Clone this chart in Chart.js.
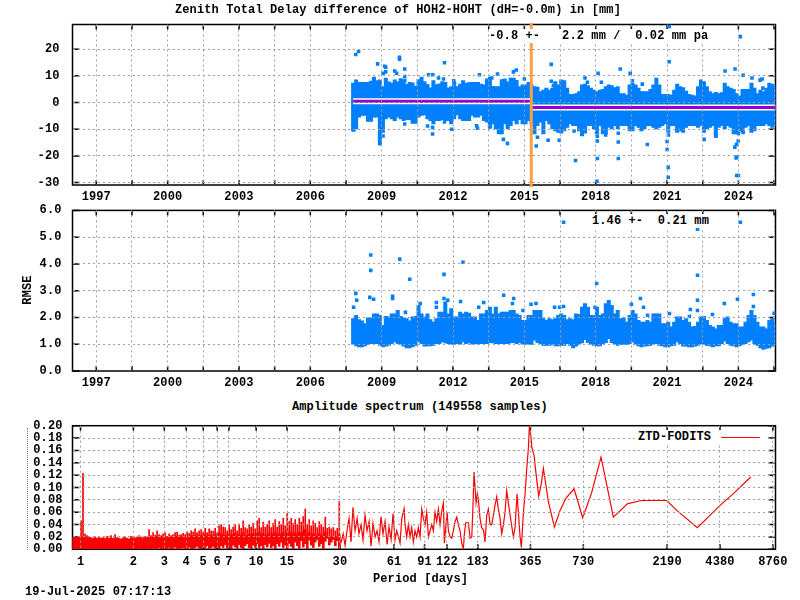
<!DOCTYPE html>
<html>
<head>
<meta charset="utf-8">
<title>ZTD difference HOH2-HOHT</title>
<script src="https://cdn.jsdelivr.net/npm/chart.js@4/dist/chart.umd.min.js"></script>
<style>
  html, body { margin: 0; padding: 0; background: #fff; }
  #page { position: relative; width: 800px; height: 600px; overflow: hidden; font: bold 12px "Liberation Mono", monospace; letter-spacing: 0.11px; color: #000; }
  canvas { position: absolute; left: 0; }
  .txt { position: absolute; white-space: pre; line-height: 14px; }
  .box { background: #fff; }
</style>
</head>
<body>
<div id="page">
  <canvas id="ztdChart" width="800" height="205" style="top:0"></canvas>
  <canvas id="rmseChart" width="800" height="195" style="top:200px"></canvas>
  <canvas id="specChart" width="800" height="160" style="top:415px"></canvas>

  <div class="txt" style="left:175px;top:3px">Zenith Total Delay difference of HOH2-HOHT (dH=-0.0m) in [mm]</div>
  <div class="txt box" style="left:489px;top:29px">-0.8 +-   2.2 mm /  0.02 mm pa</div>
  <div class="txt box" style="left:592px;top:214px">1.46 +-  0.21 mm</div>
  <div class="txt" style="left:7px;top:283px;width:42px;text-align:center;transform:rotate(-90deg)">RMSE</div>
  <div class="txt" style="left:292px;top:400px">Amplitude spectrum (149558 samples)</div>
  <div class="txt box" style="left:638px;top:430px;width:127px">ZTD-FODITS</div>
  <div style="position:absolute;left:721px;top:437px;width:39px;height:1px;background:#f00"></div>
  <div style="position:absolute;left:27px;top:428px;height:122px;border-left:1px dotted #888"></div>
  <div class="txt" style="left:373px;top:572px">Period [days]</div>
  <div class="txt" style="left:25px;top:585px">19-Jul-2025 07:17:13</div>
</div>

<script>
// ticks
const yearTicks = [1997, 1998.5, 2000, 2001.5, 2003, 2004.5, 2006, 2007.5, 2009, 2010.5, 2012, 2013.5, 2015, 2016.5, 2018, 2019.5, 2021, 2022.5, 2024, 2025.5];
const ztdTicks = [-30, -20, -10, 0, 10, 20];
const rmseTicks = [0, 1, 2, 3, 4, 5, 6];
const specPeriodTicks = [1, 2, 3, 4, 5, 6, 7, 10, 15, 30, 61, 91, 122, 183, 365, 730, 2190, 4380, 8760];
const specAmpTicks = [0, 0.02, 0.04, 0.06, 0.08, 0.10, 0.12, 0.14, 0.16, 0.18, 0.20];

const bandStart = 2007.8;
const bandStep = 0.125;
const ztdHigh = [7.3,8.5,7.6,7.6,7.6,7.6,8.0,9.5,8.2,8.5,6,9.2,7.8,7.3,8.5,7.8,9,8.5,6.8,7.6,7.4,6.2,8.6,9.5,7.9,6.8,5.5,8.2,6.7,7.0,7.9,7.6,5.5,6,7.9,6,6.9,8.2,7.3,7.5,7.6,7.6,7.6,6.9,6.6,8.9,9.5,6.1,6,6,8.6,8.8,7.0,9.2,9.2,8.3,6,6.6,6.6,7.6,
  6.6,6,5.8,4.1,4.7,5.4,4.7,5.4,7.9,6.6,
  8.5,8.2,5.4,3.1,3.1,3.4,4.1,6.6,6.9,6.4,5.4,4.7,4.1,4.7,5,6,6.6,6.4,5.6,6,3.4,3.4,2.8,6.6,7.3,6.6,5.4,4.1,4.1,4.1,5,6.6,9.2,6.6,3.1,3.1,3.1,2.8,4.7,6.9,6,5.6,4.3,3.1,2.8,2.5,6,8.5,7.9,6,4.1,3.4,3.8,3.4,3.7,7.3,6,5.4,5,3.4,2.5,5,5,5,7.3,5.4,3.4,4.7,4.1,5.4,7.3,6.9,6];
const ztdLow = [-10.6,-9.9,-5.5,-4.8,-4.8,-7.1,-7.1,-5.5,-5.5,-16,-11.2,-6.1,-5.5,-6.1,-6.8,-5.5,-6.1,-6.8,-6.4,-6.4,-7.8,-7.8,-5.5,-4.8,-4.6,-6.1,-6.8,-8,-6.8,-6.8,-6.4,-6.8,-6.8,-8,-6.1,-4.6,-6.1,-6.8,-6.8,-6.8,-4.8,-5.5,-5.5,-4.8,-6.8,-7.4,-9.7,-8,-9.9,-11.8,-11.8,-8,-9.9,-8.7,-6.8,-8,-6.4,-8,-8,-6.8,
  -8,-11.8,-8.7,-7.4,-11.8,-6.8,-8,-9.9,-10.6,-11.2,
  -11.5,-10.6,-9.3,-8,-8.7,-8.7,-10.6,-12.5,-11.5,-8.7,-8.7,-9.9,-11.8,-8.7,-11.8,-11.8,-9.3,-9.9,-8.7,-9.9,-8.7,-8.7,-8.7,-10.6,-10.6,-8.7,-9.3,-10.6,-9.9,-8.7,-8.7,-9.3,-9.9,-9.3,-8.7,-8,-11.2,-8.7,-8.7,-11.2,-10.6,-11.2,-9.3,-8.7,-8.7,-8.7,-9.3,-8.7,-11.2,-9.9,-9.3,-8.7,-13.1,-9.3,-8.7,-9.9,-8.7,-9.3,-11.8,-11.8,-10.6,-11.2,-9.3,-8.7,-11.2,-10.6,-8.7,-8.7,-8.7,-8,-8.7,-9.3,-8.7];
const rmseHigh = [1.96,2.08,1.92,1.87,1.77,1.99,1.99,2.14,2.14,2.08,1.71,2.04,2.02,2.14,2.14,2.27,2.04,1.99,1.96,1.87,2.02,2.04,2.45,2.14,2.02,2.14,1.92,1.83,1.96,2.2,2.2,2.58,2.14,2.33,2.02,2.02,2.2,2.14,2.2,2.16,2.02,2.02,1.89,2.14,2.14,2.27,2.39,2.14,2.39,2.14,2.2,2.2,2.2,2.27,2.27,2.14,2.08,1.89,1.89,2.08,
  2.08,2.27,2.27,2.27,1.96,1.89,1.96,1.92,1.96,2.08,
  2.14,2.08,1.92,1.96,1.92,2.14,2.12,2.39,2.52,2.39,2.08,2.08,2.39,2.08,2.14,2.52,2.64,2.45,2.14,2.27,1.96,1.99,1.83,2.08,2.27,2.14,1.89,1.83,1.83,1.89,1.83,2.14,2.14,2.14,1.77,1.77,1.83,1.65,1.83,2.02,2.02,1.89,1.96,1.83,1.65,1.67,1.83,2.02,2.04,1.89,1.71,1.65,1.58,1.71,1.71,1.96,2.02,1.83,1.77,1.77,1.65,1.65,1.83,2.08,2.27,2.08,1.83,1.65,1.65,1.58,1.89,1.96,1.77];
const rmseLow = [1.0,.94,.9,.9,.94,.99,1.02,1.02,1.02,.96,.9,.93,.96,1.02,1.09,1.02,1.0,.93,.86,.86,.9,.96,1.09,1.02,.93,.94,.94,.96,1.02,1.02,1.09,1.05,1.02,1.0,.99,1.02,1.0,1.09,1.02,1.05,1.0,1.02,1.0,1.02,1.02,1.02,1.06,1.05,1.02,1.02,1.02,1.02,1.02,1.05,1.06,1.02,1.06,1.0,.99,1.02,
  .99,1.15,1.06,1.02,.96,.96,.96,.99,.94,.94,
  .96,.96,1.02,.96,.86,.93,1.0,1.05,1.17,1.06,1.0,.96,.94,.94,1.02,1.06,1.21,1.06,1.02,.96,.99,.99,.99,1.02,1.09,1.0,.94,.9,.93,.94,.96,1.02,1.02,.96,.94,.9,.9,.94,.96,1.09,1.02,.93,.93,.9,.9,.93,.96,1.0,1.02,.96,.94,.9,.94,.94,1.02,1.11,1.02,.96,.94,.9,.94,.99,1.02,1.09,1.15,1.02,.96,.86,.81,.84,.86,.93,.94];

// single samples outside the cloud
const ztdOutYears = [2007.91,2008.03,2008.83,2009.13,2009.17,2009.17,2009.06,2009.75,2009.75,2009.55,2009.63,2009.97,2009.97,2009.97,2011.64,2010.97,2011.15,2011.39,2011.6,2012.03,2013.11,2013.87,2014.54,2014.66,2015,2014.16,2014.26,2013.63,2007.83,2007.83,2009.97,2010.93,2011.14,2011.14,2011.64,2011.95,2012.99,2013.03,2013.57,2013.87,2014.12,2014.29,2009.06,2009.06,2015.5,2015.55,2016,2016.47,2016.13,2016.13,2016.22,2016.22,2017.55,2017.65,2018.1,2018.24,2019.03,2019.45,2019.54,2019.96,2021.09,2023.44,2023.86,2024.2,2024.57,2024.91,2025,2025.03,2017.09,2018.07,2018.07,2018.95,2018.95,2018.42,2020.17,2021.06,2021,2021,2022.56,2023.06,2023.85,2023.92,2023.99,2023.9,2018.07,2018.95,2017.15,2024,2024.2,2021.09,2024.08,2021.05,2021.05,2023.93,2024,2023.93,2018.05];
const ztdOutValues = [18,19.1,14.5,13.6,13.2,11.5,11,17,16.2,11.8,11,12.6,9.8,8.3,14.9,10.4,10.4,9.2,8.8,8.2,10.4,10.7,11.5,12.2,8.8,8.3,7.3,9.2,-8.7,-10.3,-8,-8.8,-9.3,-11.8,-7.3,-10,-8.7,-9.6,-9,-8.4,-13.8,-15.3,-12.5,-9.3,-16.3,-13,-14.1,-14.1,14.3,8,6.4,4.1,9.2,7.6,11,7.6,12.6,11,8.2,6.9,15.3,11.8,12.6,10.2,9.2,8.4,8.8,5.4,-10.7,-12.6,-14.4,-11.5,-14.8,-12.2,-15.7,-12.2,-14.6,-17.6,-13.8,-12.5,-16.7,-15.7,-14.4,-20.8,-21,-21,-21.7,-11.6,-11.2,28.5,24.7,-28,-24.3,-27.3,-27.3,-20.4,-29.5];
const rmseOutYears = [2008.54,2008.54,2009.76,2010.18,2007.91,2007.82,2007.95,2008.5,2008.66,2009.46,2009.46,2011.62,2012.42,2013.29,2014.13,2014.55,2012.32,2016.65,2024.08,2022.28,2018.04,2022.28,2022.28,2022.28,2019.88,2024.63,2023.96,2023.41,2024.63,2020.01,2019.5,2015.28,2015.49,2014.5,2013.08,2011.3,2011.3,2010.62,2017.97,2016.27,2016.48,2016.65,2021.98,2021.94,2022.91,2021.1,2010,2014.94,2020.18,2025.5,2011.78,2011.62];
const rmseOutValues = [4.33,3.76,4.18,3.43,2.9,2.38,2.64,2.75,2.68,2.79,2.71,3.61,4.06,2.56,2.83,2.71,2.6,5.56,5.56,5.3,3.27,3.58,2.64,2.26,2.71,2.86,2.68,2.52,2.41,2.38,2.49,2.49,2.52,2.52,2.38,2.56,2.38,2.52,2.38,2.38,2.38,2.41,2.3,2.04,2.11,2.15,2.19,2.26,2.08,2.16,2.64,2.71];

// mean level before and after the antenna change
const changeYear = 2015.29;
const meanYears = [2007.8, 2015.29, 2025.56];
const meanBefore = [0.5, 0.5];
const meanAfter = [-1.9, -1.9];
const changeRange = [-31.7, 29.7];

// spectrum, short periods: per 2 pixels of the log axis the floor, the solid top and the highest spike
const densePeriod0 = 0.906;
const denseRatio = 1.0266;
const densePeaks = [.019,.019,.02,.02,.046,.123,.025,.022,.02,.019,.018,.02,.018,.019,.018,.019,.018,.021,.018,.022,.018,.024,.019,.018,.017,.019,.02,.018,.017,.021,.02,
  .019,.02,.022,.02,.019,.021,.02,.032,.022,.027,.023,.03,.024,.022,.025,.027,.021,.025,.022,.024,.027,.028,.023,.024,.026,.024,.028,.026,.03,.028,.033,.027,.03,.032,.028,.034,.027,.033,.03,.029,.034,.027,.038,.04,.036,.035,.03,.039,.032,.036,.04,.03,.041,.034,.046,.035,.033,.04,.036,.042,.033,.046,.05,.035,.044,.036,.04,.046,.035,.042,.048,.036,.045,.04,.05,.038,.058,.045,.05,.042,.048,.04,.05,.044,.053,.065,.04,.048,.038,.046,.042,.035,.045,.04,.036,.052,.034,.036,.033,.035,.03,.034,.078];
const denseBody = [.018,.018,.019,.019,.02,.02,.019,.019,.018,.018,.017,.018,.017,.018,.017,.018,.017,.018,.017,.018,.017,.018,.018,.017,.016,.017,.018,.017,.016,.018,.018,
  .017,.018,.019,.018,.017,.019,.018,.02,.019,.02,.019,.02,.019,.018,.02,.019,.018,.02,.019,.018,.02,.021,.019,.02,.019,.02,.021,.02,.022,.021,.023,.021,.022,.023,.021,.024,.02,.023,.022,.021,.024,.02,.026,.025,.024,.023,.022,.025,.022,.024,.026,.021,.025,.023,.027,.023,.022,.025,.024,.026,.022,.027,.028,.023,.026,.022,.024,.027,.022,.025,.028,.023,.026,.024,.028,.023,.03,.026,.028,.024,.027,.023,.028,.025,.029,.032,.024,.027,.022,.026,.024,.021,.026,.023,.021,.028,.02,.021,.019,.02,.018,.02,.024];
const denseTroughs = [.001,.001,.001,.001,.001,.001,.001,.001,.001,.001,.001,.001,.001,.001,.001,.001,.001,.001,.001,.001,.001,.001,.001,.001,.001,.001,.001,.001,.001,.001,.002,
  .001,.001,.002,.001,.001,.001,.002,.001,.001,.002,.001,.001,.003,.001,.002,.001,.001,.003,.001,.002,.004,.001,.002,.001,.003,.002,.001,.004,.002,.001,.003,.005,.002,.001,.004,.002,.006,.001,.003,.005,.002,.004,.001,.006,.003,.008,.002,.005,.001,.007,.004,.002,.008,.003,.001,.006,.009,.003,.001,.007,.004,.009,.002,.006,.001,.008,.004,.01,.003,.006,.001,.009,.005,.012,.003,.007,.002,.01,.005,.001,.012,.006,.002,.014,.004,.009,.001,.015,.007,.003,.012,.016,.005,.009,.001,.013,.018,.007,.012,.016,.006,.014,.002];

// spectrum, long periods: read point by point
const specDays = [30.4,31.3,32.1,32.9,33.8,34.7,35.6,36.6,37.6,38.5,39.6,40.6,41.7,42.8,44,45.1,46.3,47.6,48.8,50.1,51.4,52.8,54.2,55.7,57.1,58.7,60.2,
  61.8,63.2,64.6,66,67.5,69.6,70.5,72,73.6,75.3,76.9,78.6,80.3,82.1,83.9,85.8,87.7,89.6,91.6,93.6,95.7,97.8,100,102.2,104.4,106.7,109.1,111.5,114,116.5,118,120.1,122.3,124.4,127.2,130,132.8,135.8,138.8,141.8,145,148.2,151.5,153.4,156.2,161.7,165.3,169,171.2,174.2,176.5,178.8,181.9,184.3,188.4,192.6,196.8,201.2,205.6,210.2,214.8,219.6,224.4,229.4,234.4,239.6,244.9,250.3,255.9,261.5,267.3,273.2,282.9,291.7,298.2,306.1,311.5,318.4,323.9,332.7,340.1,347.4,
  355.1,359.8,366.3,372.7,382.6,392.6,406.6,419.3,432.3,445.8,461.6,499.4,537.9,582,646.2,724.2,811.2,920.8,1082,1306,1570,2178,2484,3257,4384,5222,6554];
const specAmps = [.01,.025,.006,.03,.05,.012,.068,.03,.05,.025,.04,.015,.055,.03,.045,.005,.042,.02,.03,.012,.053,.025,.045,.008,.036,.016,.058,
  .015,.03,.02,.01,.05,.066,.04,.02,.04,.02,.035,.012,.03,.02,.035,.02,.065,.05,.04,.06,.02,.03,.04,.03,.06,.045,.065,.04,.062,.075,.01,.035,.06,.03,.02,.018,.03,.045,.052,.04,.03,.01,.001,.025,.043,.043,.018,.02,.06,.125,.1,.075,.09,.08,.05,.035,.032,.012,.055,.065,.04,.04,.055,.072,.085,.065,.05,.025,.04,.06,.095,.075,.045,.02,.035,.09,.06,.02,.003,.06,.09,.13,
  .163,.2,.185,.163,.152,.122,.086,.104,.131,.106,.077,.036,.063,.083,.098,.051,.09,.149,.052,.074,.079,.079,.063,.035,.071,.09,.117];

const BLUE = "#0080ff";
const RED = "#ff0000";
const GRID = "#a0a0a0";

function bandPoints(low, high) {
  return low.map((lo, i) => ({ x: bandStart + i * bandStep, y: [lo, high[i]] }));
}

function pairs(xs, ys) {
  return xs.map((x, i) => ({ x: x, y: ys[i] }));
}

function densePoints(low, high) {
  return low.map((lo, i) => ({ x: densePeriod0 * Math.pow(denseRatio, i), y: [lo, high[i]] }));
}

// gnuplot style box with ticks inside on all four sides
const framePlugin = {
  id: "frame",
  beforeDraw(chart) {
    chart.ctx.letterSpacing = "0.11px";
  },
  beforeDatasetsDraw(chart) {
    const { ctx, chartArea: a, scales } = chart;
    ctx.save();
    ctx.strokeStyle = "#000";
    ctx.lineWidth = 1.5;
    ctx.strokeRect(a.left, a.top, a.right - a.left, a.bottom - a.top);
    ctx.beginPath();
    scales.x.ticks.forEach((t) => {
      const px = scales.x.getPixelForValue(t.value);
      ctx.moveTo(px, a.top); ctx.lineTo(px, a.top + 5);
      ctx.moveTo(px, a.bottom); ctx.lineTo(px, a.bottom - 5);
    });
    scales.y.ticks.forEach((t) => {
      const py = scales.y.getPixelForValue(t.value);
      ctx.moveTo(a.left, py); ctx.lineTo(a.left + 7, py);
      ctx.moveTo(a.right, py); ctx.lineTo(a.right - 7, py);
    });
    ctx.stroke();
    ctx.restore();
  }
};

function axis(type, min, max, tickValues, format, padding) {
  return {
    type: type,
    min: min,
    max: max,
    offset: false,
    grid: {
      // no grey dashes on top of the box itself
      color: (c) => (c.tick && (c.tick.value === min || c.tick.value === max) ? "transparent" : GRID),
      lineWidth: 1,
      z: 1,
      drawTicks: false,
      offset: false
    },
    border: { display: false, dash: [2, 3] },
    ticks: {
      autoSkip: false,
      maxRotation: 0,
      minRotation: 0,
      padding: padding,
      color: "#000",
      font: { family: "Liberation Mono", size: 12, weight: "bold" },
      callback: format
    },
    afterBuildTicks(scale) { scale.ticks = tickValues.map((v) => ({ value: v })); }
  };
}

function panel(canvasId, top, xHeight, xScale, yScale, datasets) {
  // fixed axis sizes so the plot box lands where it should, labels may hang over
  xScale.afterFit = (scale) => { scale.height = xHeight; scale.paddingLeft = 0; scale.paddingRight = 0; };
  yScale.afterFit = (scale) => { scale.width = 72.5; scale.paddingTop = 0; scale.paddingBottom = 0; };
  return new Chart(document.getElementById(canvasId), {
    type: "bar",
    data: { datasets: datasets },
    options: {
      responsive: false,
      animation: false,
      devicePixelRatio: 1,
      layout: { autoPadding: false, padding: { top: top, right: 24.5, bottom: 0, left: 0 } },
      plugins: { legend: { display: false }, tooltip: { enabled: false } },
      scales: { x: xScale, y: yScale }
    },
    plugins: [framePlugin]
  });
}

const yearLabel = (v) => (Number.isInteger(v) ? String(v) : "");
const yearAxis = () => axis("linear", 1996, 2025.56, yearTicks, yearLabel, 5);

panel("ztdChart", 24.5, 20, yearAxis(),
  axis("linear", -30.9, 29.25, ztdTicks, (v) => String(v), 13),
  [
    { type: "line", data: pairs([changeYear, changeYear], changeRange), borderColor: "#ffa040", borderWidth: 3, pointRadius: 0, clip: false, order: 0 },
    { type: "line", data: pairs(meanYears.slice(0, 2), meanBefore), borderColor: "#9400d3", borderWidth: 3, pointRadius: 0, order: 1 },
    { type: "line", data: pairs(meanYears.slice(1), meanAfter), borderColor: "#9400d3", borderWidth: 3, pointRadius: 0, order: 1 },
    { type: "line", data: pairs(meanYears.slice(0, 2), meanBefore), borderColor: "#fff", borderWidth: 6, pointRadius: 0, order: 2 },
    { type: "line", data: pairs(meanYears.slice(1), meanAfter), borderColor: "#fff", borderWidth: 6, pointRadius: 0, order: 2 },
    { type: "scatter", data: pairs(ztdOutYears, ztdOutValues), pointStyle: "rect", pointRadius: 2.5, pointBorderWidth: 0, pointBackgroundColor: BLUE, order: 3 },
    { type: "bar", data: bandPoints(ztdLow, ztdHigh), backgroundColor: BLUE, barThickness: 3.4, order: 4 }
  ]);

panel("rmseChart", 10.4, 24, yearAxis(),
  axis("linear", 0, 6, rmseTicks, (v) => v.toFixed(1), 11),
  [
    { type: "scatter", data: pairs(rmseOutYears, rmseOutValues), pointStyle: "rect", pointRadius: 2.5, pointBorderWidth: 0, pointBackgroundColor: BLUE, order: 1 },
    { type: "bar", data: bandPoints(rmseLow, rmseHigh), backgroundColor: BLUE, barThickness: 3.4, order: 2 }
  ]);

panel("specChart", 10.7, 25.7,
  axis("logarithmic", 0.9, 9070, specPeriodTicks, (v) => String(v), 5),
  axis("linear", 0, 0.2, specAmpTicks, (v) => v.toFixed(2), 10),
  [
    { type: "line", data: pairs(specDays, specAmps), borderColor: RED, borderWidth: 1.2, pointRadius: 0, tension: 0, order: 1 },
    { type: "bar", data: densePoints(denseTroughs, densePeaks), backgroundColor: RED, barThickness: 1, grouped: false, order: 2 },
    { type: "bar", data: densePoints(denseTroughs, denseBody), backgroundColor: RED, barThickness: 2, grouped: false, order: 3 }
  ]);
</script>
</body>
</html>
